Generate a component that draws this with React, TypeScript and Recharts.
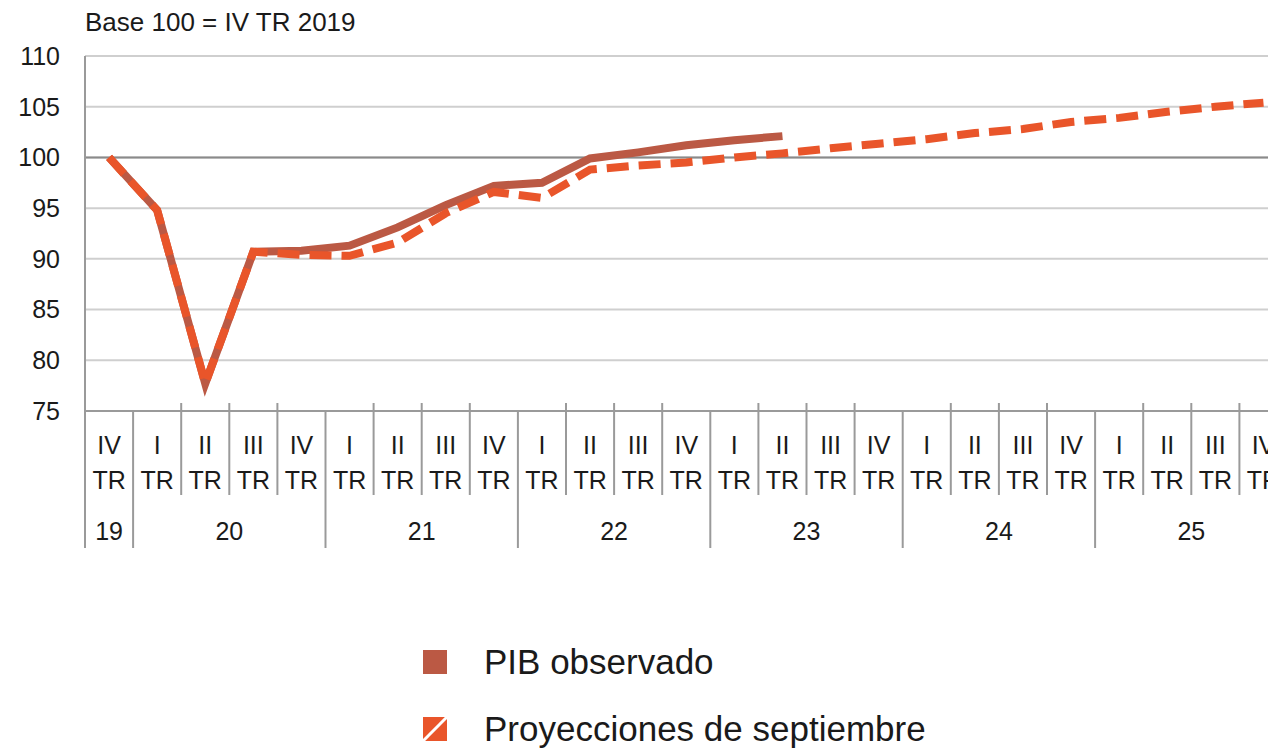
import React from "react";
import { ComposedChart, Line, XAxis, YAxis, CartesianGrid, ReferenceLine } from "recharts";

// trimestres (IV TR 2019 ... IV TR 2025)
const quarters = ["IV", "I", "II", "III", "IV", "I", "II", "III", "IV", "I", "II", "III", "IV", "I", "II", "III", "IV", "I", "II", "III", "IV", "I", "II", "III", "IV"];
const years = ["19", "20", "20", "20", "20", "21", "21", "21", "21", "22", "22", "22", "22", "23", "23", "23", "23", "24", "24", "24", "24", "25", "25", "25", "25"];

const observado = [100, 94.8, 77.7, 90.7, 90.8, 91.3, 93.1, 95.3, 97.2, 97.5, 99.9, 100.5, 101.2, 101.7, 102.1, null, null, null, null, null, null, null, null, null, null];
const proyeccion = [100, 94.8, 77.7, 90.7, 90.4, 90.3, 91.6, 94.5, 96.6, 96.0, 98.8, 99.2, 99.5, 100.0, 100.4, 100.9, 101.35, 101.8, 102.4, 102.8, 103.5, 103.9, 104.5, 105.0, 105.4];

const yTicks = [75, 80, 85, 90, 95, 100, 105, 110];

const data = quarters.map((q, i) => ({
  key: `${q}-${years[i]}-${i}`,
  q,
  year: years[i],
  observado: observado[i],
  proyeccion: proyeccion[i],
}));

const W = 1300;
const H = 748;
const LEFT = 85;
const RIGHT = 12.5;
const AXIS_Y = 411;
const BAND = (W - LEFT - RIGHT) / quarters.length;
const FONT = "'Liberation Sans', Arial, sans-serif";
const TXT = "#1a1a1a";
const SEP = "#9a9a9a";
const C_OBS = "#bb5944";
const C_PROY = "#e9552a";

const QuarterTick = (props: any) => {
  const { x, index } = props;
  const left = x - BAND / 2;
  const yr = years[index];
  const isStart = index === 0 || years[index - 1] !== yr;
  let yearLabel = null;
  if (isStart) {
    let n = 0;
    while (years[index + n] === yr) n++;
    yearLabel = (
      <text x={x + ((n - 1) / 2) * BAND} y={540} textAnchor="middle" fontSize={25} fill={TXT} fontFamily={FONT}>
        {yr}
      </text>
    );
  }
  return (
    <g>
      <line x1={left} x2={left} y1={isStart ? AXIS_Y : AXIS_Y - 8} y2={isStart ? 548 : 495} stroke={SEP} strokeWidth={2} />
      <text x={x} y={454} textAnchor="middle" fontSize={25} fill={TXT} fontFamily={FONT}>
        {quarters[index]}
      </text>
      <text x={x} y={489} textAnchor="middle" fontSize={25} fill={TXT} fontFamily={FONT}>
        TR
      </text>
      {yearLabel}
    </g>
  );
};

export default function App() {
  return (
    <div style={{ position: "absolute", left: 0, top: 0, width: 1268, height: 748, overflow: "hidden", background: "#fff" }}>
      <div style={{ position: "absolute", left: LEFT, top: 7, fontFamily: FONT, fontSize: 26, color: TXT }}>
        Base 100 = IV TR 2019
      </div>
      <ComposedChart width={W} height={H} data={data} margin={{ top: 56, right: RIGHT, bottom: 0, left: 0 }}>
        <CartesianGrid horizontal vertical={false} stroke="#cfcfcf" strokeWidth={2} />
        <XAxis
          dataKey="key"
          scale="band"
          height={H - AXIS_Y}
          interval={0}
          tickLine={false}
          axisLine={{ stroke: SEP, strokeWidth: 2 }}
          tick={<QuarterTick />}
        />
        <YAxis
          width={LEFT}
          domain={[75, 110]}
          ticks={yTicks}
          interval={0}
          tickLine={false}
          tickMargin={19}
          axisLine={{ stroke: SEP, strokeWidth: 2 }}
          tick={{ fontSize: 25, fill: TXT, fontFamily: FONT }}
        />
        <ReferenceLine y={100} stroke="#8a8a8a" strokeWidth={2} />
        <Line
          type="linear"
          dataKey="observado"
          stroke={C_OBS}
          strokeWidth={8}
          dot={false}
          isAnimationActive={false}
        />
        <Line
          type="linear"
          dataKey="proyeccion"
          stroke={C_PROY}
          strokeWidth={8}
          strokeDasharray="22 10"
          dot={false}
          isAnimationActive={false}
        />
      </ComposedChart>
      <div style={{ position: "absolute", left: 423, top: 637, fontFamily: FONT, fontSize: 35, color: TXT }}>
        <div style={{ display: "flex", alignItems: "center", height: 50 }}>
          <span style={{ display: "inline-block", width: 24, height: 24, background: C_OBS, marginRight: 37 }} />
          PIB observado
        </div>
        <div style={{ display: "flex", alignItems: "center", height: 50, marginTop: 17 }}>
          <svg width={24} height={24} style={{ marginRight: 37 }}>
            <rect width={24} height={24} fill={C_PROY} />
            <line x1={0} y1={24} x2={24} y2={0} stroke="#fff" strokeWidth={3} />
          </svg>
          Proyecciones de septiembre
        </div>
      </div>
    </div>
  );
}
